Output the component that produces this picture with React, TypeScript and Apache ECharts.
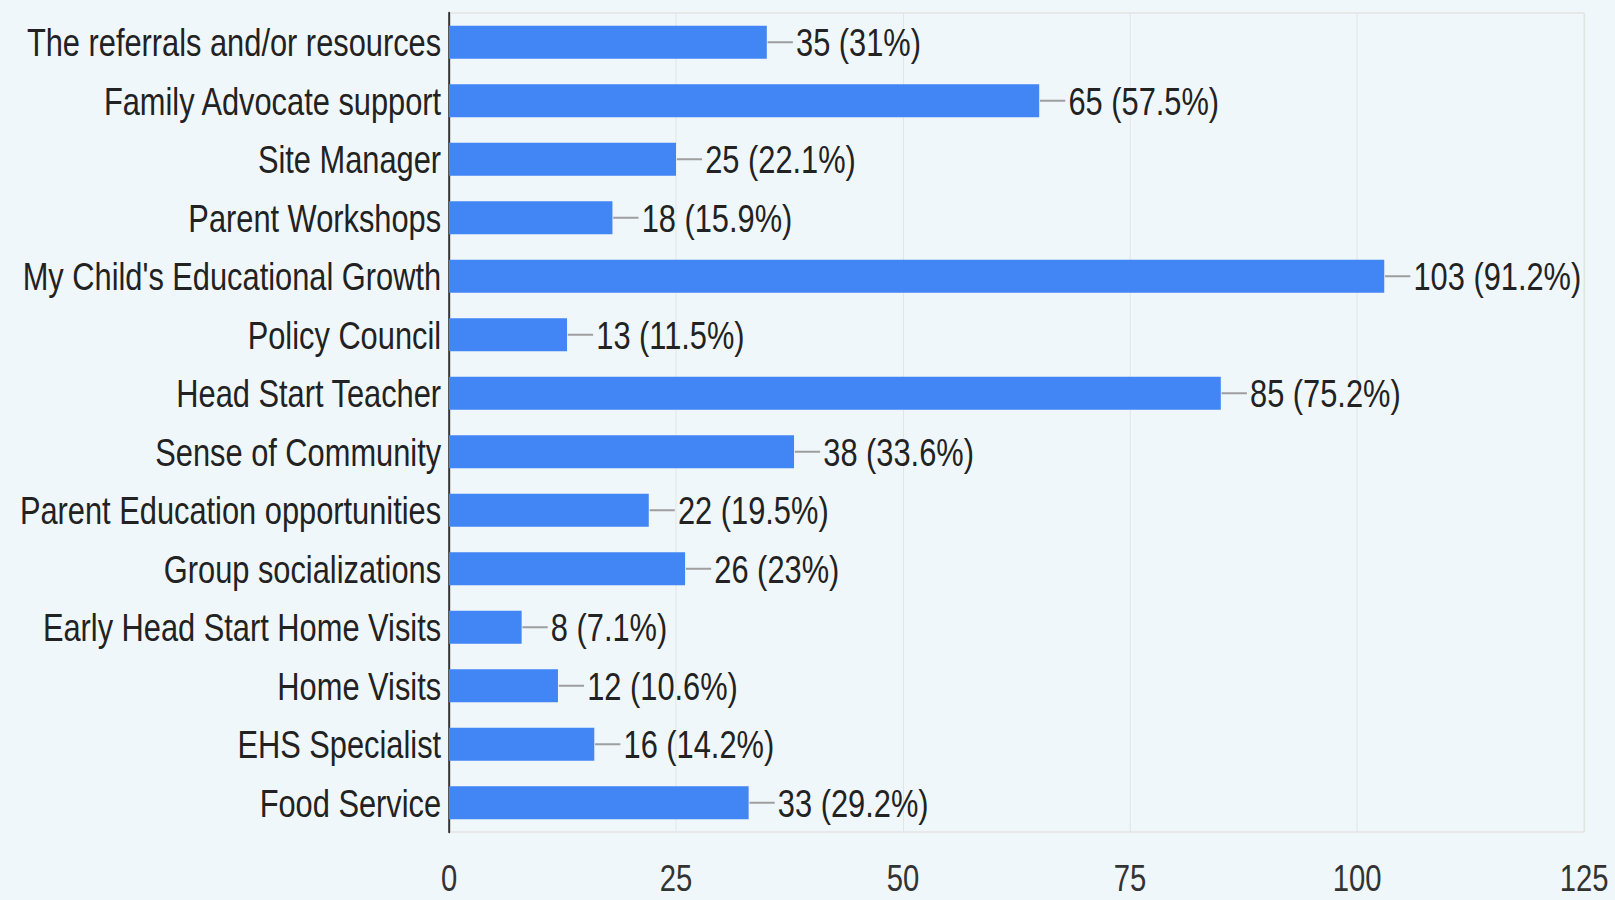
import React, { useEffect, useRef } from "react";
import * as echarts from "echarts";

const categories = [
  "The referrals and/or resources",
  "Family Advocate support",
  "Site Manager",
  "Parent Workshops",
  "My Child's Educational Growth",
  "Policy Council",
  "Head Start Teacher",
  "Sense of Community",
  "Parent Education opportunities",
  "Group socializations",
  "Early Head Start Home Visits",
  "Home Visits",
  "EHS Specialist",
  "Food Service",
];
const counts = [35, 65, 25, 18, 103, 13, 85, 38, 22, 26, 8, 12, 16, 33];
const percents = ["31", "57.5", "22.1", "15.9", "91.2", "11.5", "75.2", "33.6", "19.5", "23", "7.1", "10.6", "14.2", "29.2"];
const xTicks = { min: 0, max: 125, interval: 25 };

const FONT = "'Liberation Sans', Arial, sans-serif";
// The reference is horizontally condensed; render wide and squeeze horizontally.
const W = 2044;
const S = 1615 / W;

export default function App() {
  const ref = useRef<HTMLDivElement>(null);
  useEffect(() => {
    const chart = echarts.init(ref.current!, null, { renderer: "svg" });
    chart.setOption({
      animation: false,
      backgroundColor: "#EFF7FA",
      textStyle: { fontFamily: FONT },
      grid: {
        left: 449 / S,
        right: W - 1584 / S,
        top: 13,
        bottom: 68,
        containLabel: false,
        outerBoundsMode: "none",
        show: true,
        borderColor: "#E4E4E4",
        borderWidth: 1.3,
      },
      xAxis: {
        type: "value",
        min: xTicks.min,
        max: xTicks.max,
        interval: xTicks.interval,
        axisLine: { show: false },
        axisTick: { show: false },
        splitLine: { show: true, lineStyle: { color: "#E4E4E4", width: 1.3 } },
        axisLabel: { fontSize: 37, lineHeight: 37, color: "#333", fontFamily: FONT, margin: 28 },
      },
      yAxis: {
        type: "category",
        inverse: true,
        data: categories,
        axisLine: { show: true, lineStyle: { color: "#333", width: 2.5 } },
        axisTick: { show: false },
        axisLabel: { fontSize: 39, color: "#222", fontFamily: FONT, margin: 10 },
      },
      series: [
        {
          type: "bar",
          data: counts,
          barWidth: "56%",
          itemStyle: { color: "#4285F4" },
          label: {
            show: true,
            position: "right",
            distance: 37,
            fontSize: 39,
            color: "#222",
            fontFamily: FONT,
            formatter: (p: any) => `${counts[p.dataIndex]} (${percents[p.dataIndex]}%)`,
          },
        },
        {
          type: "custom",
          data: counts.map((v, i) => [v, i]),
          encode: { x: 0, y: 1 },
          silent: true,
          renderItem: (params: any, api: any) => {
            const c = api.coord([api.value(0), api.value(1)]);
            return {
              type: "line",
              shape: { x1: c[0] + 1, y1: c[1], x2: c[0] + 33, y2: c[1] },
              style: { stroke: "#9E9E9E", lineWidth: 2 },
            };
          },
        },
      ],
    });
    return () => chart.dispose();
  }, []);
  return (
    <div style={{ position: "fixed", left: 0, top: 0, width: 1615, height: 900, overflow: "hidden" }}>
      <div
        ref={ref}
        style={{
          width: W,
          height: 900,
          transform: `scaleX(${S})`,
          transformOrigin: "0 0",
        }}
      />
    </div>
  );
}
